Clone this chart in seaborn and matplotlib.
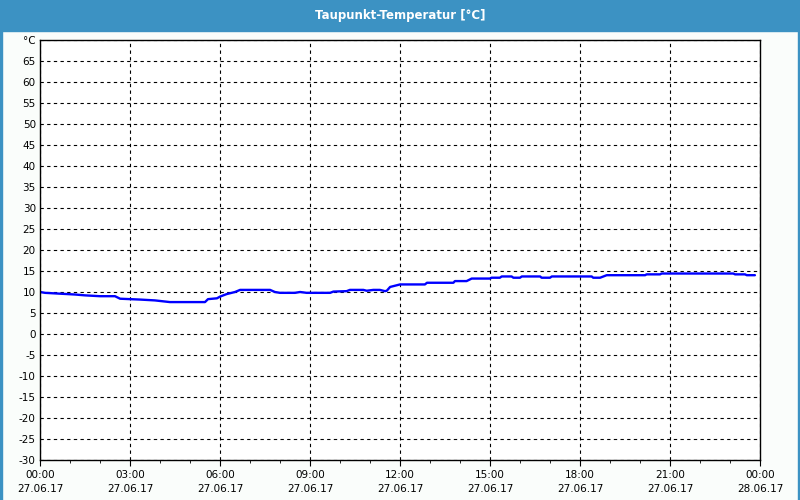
import pandas as pd
import matplotlib
matplotlib.use("Agg")
import matplotlib.pyplot as plt
import matplotlib.dates as mdates
from matplotlib.patches import Rectangle
import seaborn as sns

# dew point readings, hours since 27.06.17 00:00
hours = [0.0, 0.17, 0.67, 1.17, 1.5, 2.0, 2.5, 2.67, 3.33, 3.83, 4.33, 5.5, 5.6, 5.9,
         6.0, 6.22, 6.5, 6.67, 7.67, 7.83, 8.0, 8.5, 8.67, 8.89, 9.67, 9.78, 10.22,
         10.33, 10.78, 10.89, 11.11, 11.33, 11.5, 11.56, 11.67, 11.89, 12.0, 12.83,
         12.9, 13.78, 13.83, 14.22, 14.39, 15.0, 15.05, 15.33, 15.39, 15.72, 15.78,
         16.0, 16.06, 16.67, 16.72, 17.0, 17.06, 18.39, 18.44, 18.67, 18.89, 20.17,
         20.22, 20.67, 20.72, 23.11, 23.17, 23.5, 23.56, 23.83]
taupunkt = [10.0, 9.8, 9.6, 9.4, 9.2, 9.0, 9.0, 8.4, 8.2, 8.0, 7.6, 7.6, 8.3, 8.5,
            8.9, 9.5, 10.0, 10.5, 10.5, 10.0, 9.8, 9.8, 10.0, 9.8, 9.8, 10.1, 10.2,
            10.5, 10.5, 10.3, 10.5, 10.5, 10.2, 10.3, 11.2, 11.6, 11.8, 11.8,
            12.2, 12.2, 12.6, 12.6, 13.2, 13.2, 13.4, 13.4, 13.7, 13.7, 13.4,
            13.4, 13.7, 13.7, 13.4, 13.4, 13.7, 13.7, 13.4, 13.4, 14.0, 14.0,
            14.2, 14.2, 14.4, 14.4, 14.2, 14.2, 14.0, 14.0]

y_ticks = list(range(-30, 75, 5))
y_labels = [str(v) for v in y_ticks[:-1]] + ["°C"]

start = pd.Timestamp("2017-06-27 00:00")
df = pd.DataFrame({"zeit": start + pd.to_timedelta(hours, unit="h"), "wert": taupunkt})

sns.set_style("white")
plt.rcParams["font.family"] = ["DejaVu Sans"]
plt.rcParams["text.color"] = "black"
plt.rcParams["xtick.color"] = "black"
plt.rcParams["ytick.color"] = "black"

fig = plt.figure(figsize=(8, 5), dpi=100, facecolor="#fafdfb")
ax = fig.add_axes([0.05, 0.08, 0.9, 0.84])
ax.set_facecolor("white")

# title bar + window edges
fig.patches.append(Rectangle((0, 1 - 31 / 500), 1, 31 / 500, transform=fig.transFigure,
                             color="#3c92c3", zorder=0))
fig.patches.append(Rectangle((0, 0), 0.002, 1, transform=fig.transFigure,
                             color="#3c92c3", zorder=0))
fig.patches.append(Rectangle((0.998, 0), 0.002, 1, transform=fig.transFigure,
                             color="#3c92c3", zorder=0))
fig.text(0.5, 1 - 15 / 500, "Taupunkt-Temperatur [°C]", color="white", fontsize=8.5,
         fontweight="bold", ha="center", va="center")

sns.lineplot(data=df, x="zeit", y="wert", ax=ax, color="#0000ff", linewidth=1.7)

ax.set_xlim(start, start + pd.Timedelta(hours=24))
ax.set_ylim(-30, 70)
ax.set_yticks(y_ticks)
ax.set_yticklabels(y_labels)
ax.xaxis.set_major_locator(mdates.HourLocator(byhour=range(0, 24, 3)))
ax.xaxis.set_minor_locator(mdates.HourLocator())
ax.xaxis.set_major_formatter(mdates.DateFormatter("%H:%M\n%d.%m.%y"))
for lbl in ax.get_xticklabels():
    lbl.set_linespacing(1.5)

ax.grid(True, which="major", color="black", linestyle=(0, (3, 3)), linewidth=0.8)
ax.tick_params(axis="y", length=0, labelsize=7.5, pad=3)
ax.tick_params(axis="x", which="major", length=4, labelsize=7.5, pad=3,
               direction="out", bottom=True)
ax.tick_params(axis="x", which="minor", length=2, direction="out", bottom=True)
for s in ax.spines.values():
    s.set_color("black")
    s.set_linewidth(1)
ax.set_xlabel("")
ax.set_ylabel("")

fig.savefig("out.png", dpi=100, facecolor=fig.get_facecolor())
